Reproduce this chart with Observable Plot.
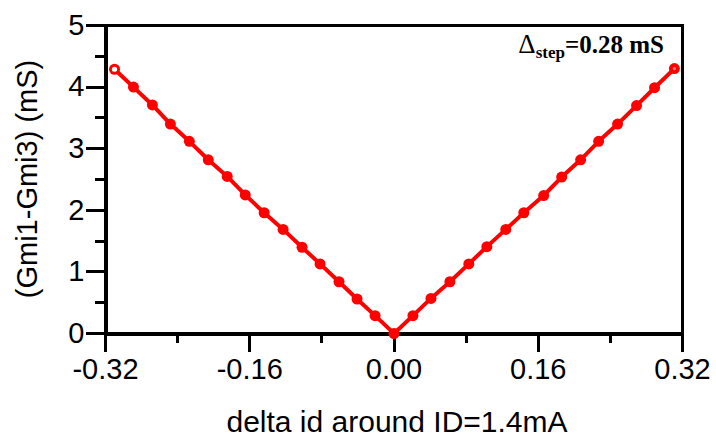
<!DOCTYPE html>
<html>
<head>
<meta charset="utf-8">
<script src="https://cdn.jsdelivr.net/npm/d3@7"></script>
<script src="https://cdn.jsdelivr.net/npm/@observablehq/plot@0.6"></script>
<style>
  html, body { margin: 0; padding: 0; background: white; overflow: hidden; }
  #chart { width: 716px; height: 440px; }
  #chart svg { display: block; }
  #chart svg [aria-label="frame"], #chart svg [aria-label="rule"], #chart svg [aria-label$="axis tick"] { shape-rendering: crispEdges; }
  .lbl { position: absolute; white-space: nowrap; color: #000; margin: 0; padding: 0; }
  #xtitle { left: 397px; top: 407px; transform: translateX(-50%); font: 30px/30px Arial, "Liberation Sans", sans-serif; }
  #ytitle { left: 27px; top: 179px; transform: translate(-50%, -50%) rotate(-90deg); font: 29px/29px Arial, "Liberation Sans", sans-serif; }
  #ann { right: 52px; top: 32px; font: bold 25px/25px "Liberation Serif", "Times New Roman", serif; }
  #ann .sym { font-weight: normal; font-size: 27px; }
  #ann .sub { font-size: 17px; position: relative; top: 5px; }
</style>
</head>
<body>
<div id="chart"></div>
<div id="xtitle" class="lbl"></div>
<div id="ytitle" class="lbl"></div>
<div id="ann" class="lbl"><span class="sym"></span><span class="sub"></span><span class="rest"></span></div>
<script>
// delta id around ID = 1.4 mA (mA)
const deltaId = [
  -0.310, -0.289, -0.268, -0.248, -0.227, -0.206, -0.185, -0.165,
  -0.144, -0.123, -0.102, -0.082, -0.061, -0.041, -0.021, 0.000,
   0.021,  0.041,  0.062,  0.083,  0.103,  0.124,  0.144,  0.166,
   0.186,  0.207,  0.227,  0.248,  0.269,  0.289,  0.311
];
// Gmi1 - Gmi3 (mS)
const gmDiff = [
  4.29, 4.00, 3.71, 3.40, 3.12, 2.82, 2.55, 2.25,
  1.96, 1.69, 1.40, 1.13, 0.84, 0.56, 0.29, 0.00,
  0.29, 0.57, 0.84, 1.13, 1.41, 1.69, 1.96, 2.24,
  2.54, 2.82, 3.12, 3.40, 3.70, 3.99, 4.30
];
const xTicks = [-0.32, -0.16, 0.00, 0.16, 0.32];
const xMinorTicks = [-0.24, -0.08, 0.08, 0.24];
const yTicks = [0, 1, 2, 3, 4, 5];
const yMinorTicks = [0.5, 1.5, 2.5, 3.5, 4.5];
const xTitle = "delta id around ID=1.4mA";
const yTitle = "(Gmi1-Gmi3) (mS)";
const stepLabel = {symbol: "\u0394", sub: "step", rest: "=0.28 mS"};

const data = deltaId.map((x, i) => ({x, y: gmDiff[i]}));
const last = data.length - 1;

const W = 716, H = 440, mL = 105, mR = 34, mT = 25, mB = 107;
const ink = "#000000";

const plot = Plot.plot({
  width: W, height: H,
  marginLeft: mL, marginRight: mR, marginTop: mT, marginBottom: mB,
  x: {domain: [-0.32, 0.32]},
  y: {domain: [0, 5]},
  style: {fontFamily: "Arial, 'Liberation Sans', sans-serif", fontSize: "29px", color: "black", background: "white", overflow: "visible"},
  marks: [
    Plot.frame({stroke: ink, strokeWidth: 3}),
    Plot.axisX({ticks: xTicks, tickSize: 19, tickPadding: 6, tickFormat: d => d.toFixed(2), stroke: ink, strokeWidth: 3, label: null}),
    Plot.axisX({ticks: xMinorTicks, tickSize: 10, tickFormat: () => "", stroke: ink, strokeWidth: 3, label: null}),
    Plot.axisY({ticks: yTicks, tickSize: 19, tickPadding: 2, tickFormat: d => String(d), stroke: ink, strokeWidth: 3, label: null}),
    Plot.axisY({ticks: yMinorTicks, tickSize: 10, tickFormat: () => "", stroke: ink, strokeWidth: 3, label: null}),
    Plot.ruleX([-0.32], {stroke: ink, strokeWidth: 4}),
    Plot.ruleY([0], {stroke: ink, strokeWidth: 4}),
    Plot.line(data, {x: "x", y: "y", stroke: "#ff0000", strokeWidth: 4}),
    Plot.dot(data, {x: "x", y: "y", r: 5.5, fill: "#ff0000"}),
    Plot.dot(data, {x: "x", y: "y", r: 2.6, fill: "white", filter: (d, i) => i === 0}),
    Plot.dot(data, {x: "x", y: "y", r: 1.6, fill: "#ff8080", filter: (d, i) => i === last})
  ]
});
document.getElementById("chart").appendChild(plot);

document.getElementById("xtitle").textContent = xTitle;
document.getElementById("ytitle").textContent = yTitle;
document.querySelector("#ann .sym").textContent = stepLabel.symbol;
document.querySelector("#ann .sub").textContent = stepLabel.sub;
document.querySelector("#ann .rest").textContent = stepLabel.rest;
</script>
</body>
</html>
